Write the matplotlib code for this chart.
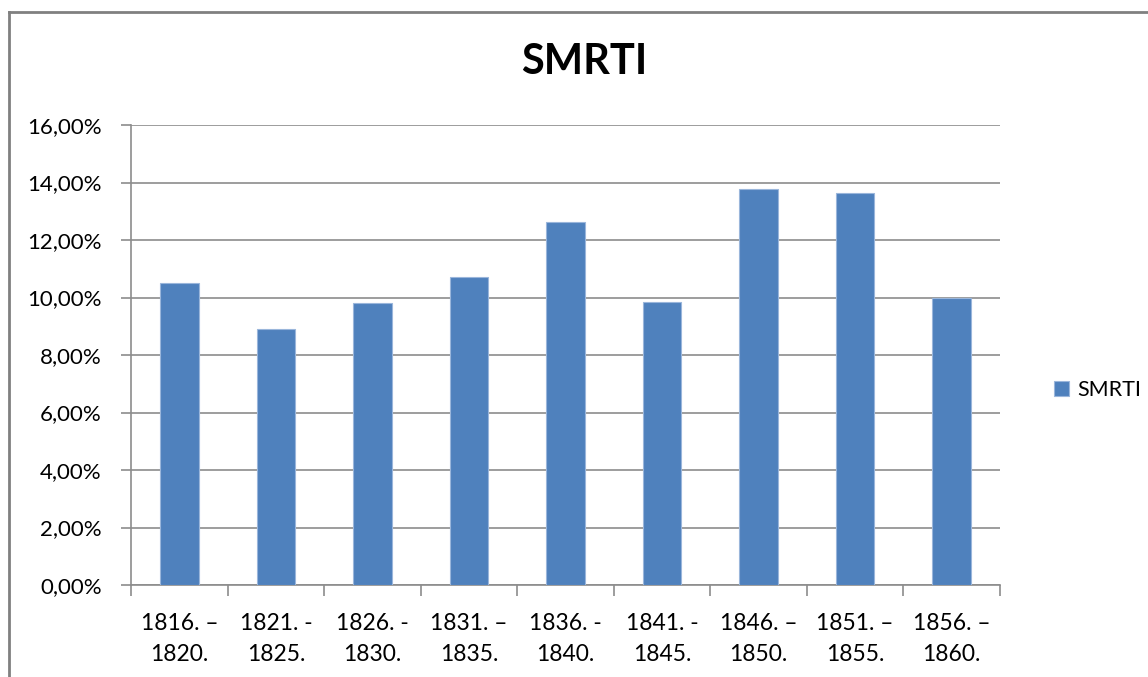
import matplotlib
matplotlib.use("Agg")
import matplotlib.pyplot as plt
from matplotlib.lines import Line2D
from matplotlib.ticker import FuncFormatter, FixedLocator
import numpy as np

categories = ["1816. –\n1820.", "1821. -\n1825.", "1826. -\n1830.", "1831. –\n1835.",
              "1836. -\n1840.", "1841. -\n1845.", "1846. –\n1850.", "1851. –\n1855.",
              "1856. –\n1860."]
values = [10.49, 8.91, 9.80, 10.71, 12.61, 9.84, 13.78, 13.64, 9.98]
series_name = "SMRTI"
title = "SMRTI"

plt.rcParams['font.family'] = ['Lato', 'DejaVu Sans']

W, H = 1148, 677
fig = plt.figure(figsize=(W / 100, H / 100), dpi=100)
ax = fig.add_axes([131 / W, 1 - 585 / H, (1000 - 131) / W, (585 - 125) / H])

x = np.arange(len(categories))
bars = ax.bar(x, values, width=0.4, color="#4F81BD", edgecolor="#9ab6db",
              linewidth=0.8, zorder=3, label=series_name)

ax.set_xlim(-0.5, len(categories) - 0.5)
ax.set_ylim(0, 16)
ax.set_yticks(np.arange(0, 16.01, 2))
ax.yaxis.set_major_formatter(FuncFormatter(lambda v, p: f"{v:.2f}".replace(".", ",") + "%"))
ax.yaxis.grid(True, color="#8c8c8c", linewidth=1.2, zorder=0)

ax.set_xticks(x)
ax.set_xticklabels(categories, fontsize=16.5, linespacing=1.6)
ax.xaxis.set_minor_locator(FixedLocator(np.arange(-0.5, len(categories), 1.0)))
ax.tick_params(axis="x", which="major", length=0, pad=20, colors="black")
ax.tick_params(axis="x", which="minor", length=8, width=1.2, color="#8c8c8c")
ax.tick_params(axis="y", length=7, width=1.2, color="#8c8c8c", labelsize=16, pad=14)

for s in ["top", "right"]:
    ax.spines[s].set_visible(False)
for s in ["left", "bottom"]:
    ax.spines[s].set_color("#8c8c8c")
    ax.spines[s].set_linewidth(1.2)

fig.text(584 / W, 1 - 62 / H, title, ha="center", va="center",
         fontsize=30, fontweight="bold")

leg = fig.legend(handles=[bars], labels=[series_name], loc="center left",
                 bbox_to_anchor=(1043 / W, 1 - 390 / H), frameon=False,
                 fontsize=15.5, handlelength=0.7, handleheight=0.7,
                 handletextpad=0.4, borderpad=0)

# chart area border (left and top visible)
fig.add_artist(Line2D([9 / W, 9 / W], [0, 1 - 12 / H], color="#808080",
                      linewidth=2, transform=fig.transFigure))
fig.add_artist(Line2D([9 / W, 1], [1 - 12 / H, 1 - 12 / H], color="#808080",
                      linewidth=2, transform=fig.transFigure))

fig.savefig("out.png", dpi=100)
